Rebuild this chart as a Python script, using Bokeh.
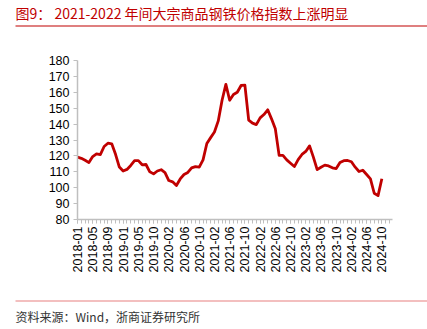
from bokeh.plotting import figure
from bokeh.layouts import column
from bokeh.models import Range1d, FixedTicker, ColumnDataSource
from bokeh.core.properties import value
from bokeh.embed import file_html
from bokeh.resources import INLINE
import math

# ---- data ----
months = []
for y in range(2018, 2025):
    for m in range(1, 13):
        if y == 2024 and m > 10:
            continue
        if y == 2019 and m == 9:
            continue
        months.append(f"{y}-{m:02d}")

index_values = [
    119.2, 118.5, 117.3, 115.8, 119.6, 121.3, 120.8, 125.9, 128.0, 127.6,
    121.0, 113.0, 110.5, 111.5, 114.0, 117.0, 117.0, 114.4, 114.6, 110.0,
    108.7, 110.5, 111.3, 109.5, 104.5, 103.7, 101.4, 105.5, 108.3, 109.6,
    112.5, 113.3, 112.9, 117.5, 127.8, 131.5, 135.0, 142.0, 155.0, 165.0,
    155.0, 158.6, 160.0, 164.3, 164.5, 142.5, 140.6, 139.7, 143.9, 146.0,
    149.0, 143.3, 137.0, 120.3, 120.3, 117.5, 115.4, 113.3, 117.7, 120.9,
    122.8, 126.3, 119.2, 111.4, 112.9, 114.2, 113.7, 112.5, 112.0, 115.8,
    117.0, 117.1, 116.3, 112.9, 110.2, 111.0, 108.3, 105.5, 96.5, 95.0,
    105.6,
]
y_ticks = [80, 90, 100, 110, 120, 130, 140, 150, 160, 170, 180]

title_text = "图9：  2021-2022 年间大宗商品钢铁价格指数上涨明显"
source_text = "资料来源：Wind，浙商证券研究所"

W = 427


def blank(h):
    f = figure(width=W, height=h, output_backend="svg", toolbar_location=None,
               x_range=Range1d(0, W), y_range=Range1d(h, 0),
               x_axis_type=None, y_axis_type=None, min_border=0, frame_align=False)
    f.outline_line_color = None
    f.xgrid.visible = False
    f.ygrid.visible = False
    f.border_fill_color = "white"
    f.background_fill_color = "white"
    return f


# ---- title strip (screen y grows downward) ----
pt = blank(30)
pt.text(x=[15], y=[12.5], text=[title_text], text_font=value("Noto Sans CJK SC"),
        text_font_size="14px", text_color="#C00000", text_baseline="middle")
pt.segment(x0=[15], y0=[25.5], x1=[W], y1=[25.5], line_color="#C00000", line_width=1.2)

# ---- main chart ----
n = len(index_values)
src = ColumnDataSource(dict(x=list(range(n)), y=index_values))

p = figure(width=W, height=265, output_backend="svg", toolbar_location=None,
           x_range=Range1d(0, 82.8), y_range=Range1d(80, 180), frame_align=False,
           min_border_left=77, min_border_right=35, min_border_top=30, min_border_bottom=76)
p.outline_line_color = None
p.xgrid.visible = False
p.ygrid.visible = False
p.background_fill_color = "white"
p.border_fill_color = "white"

p.line("x", "y", source=src, line_color="#C00000", line_width=2.8, line_join="round")

axis_col = "#BFBFBF"
xa = p.xaxis[0]
xa.ticker = FixedTicker(ticks=list(range(0, n, 4)), minor_ticks=list(range(0, 83)))
xa.major_label_overrides = {i: months[i] for i in range(0, n, 4)}
xa.major_label_orientation = math.pi / 2
xa.axis_line_color = axis_col
xa.axis_line_width = 1.5
xa.major_tick_line_color = axis_col
xa.minor_tick_line_color = axis_col
xa.major_tick_out = 4
xa.major_tick_in = 0
xa.minor_tick_out = 4
xa.minor_tick_in = 0
xa.major_label_text_font = "Liberation Sans"
xa.major_label_text_font_size = "12.5px"
xa.major_label_text_color = "#000000"
xa.major_label_standoff = 3

ya = p.yaxis[0]
ya.ticker = FixedTicker(ticks=y_ticks, minor_ticks=[])
ya.axis_line_color = axis_col
ya.axis_line_width = 1.5
ya.major_tick_line_color = axis_col
ya.major_tick_out = 4
ya.major_tick_in = 0
ya.minor_tick_line_color = None
ya.major_label_text_font = "Liberation Sans"
ya.major_label_text_font_size = "12.5px"
ya.major_label_text_color = "#000000"
ya.major_label_standoff = 4

# ---- source strip ----
ps = blank(34)
ps.segment(x0=[15], y0=[5.5], x1=[W], y1=[5.5], line_color="#E88080", line_width=1.2)
ps.text(x=[15], y=[20.5], text=[source_text], text_font=value("Noto Sans CJK SC"),
        text_font_size="12px", text_color="#333333", text_baseline="middle")

layout = column(pt, p, ps, spacing=0)
open("out.html", "w").write(file_html(layout, INLINE))
